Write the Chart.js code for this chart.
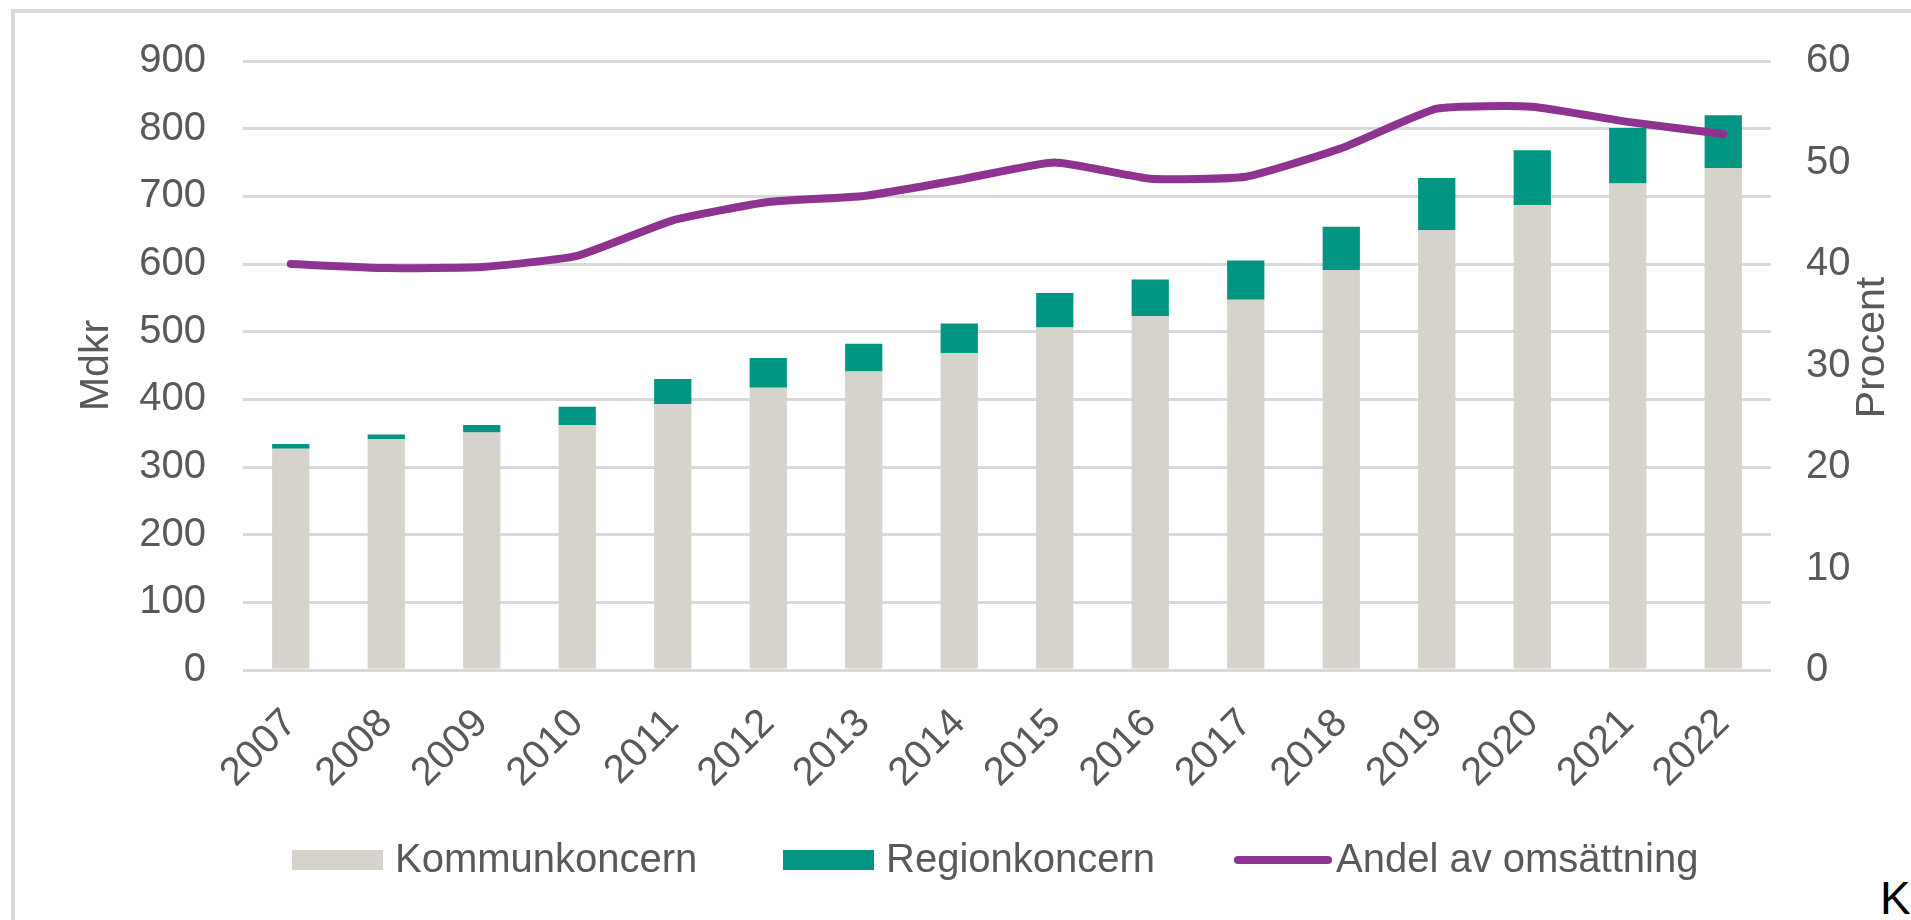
<!DOCTYPE html>
<html>
<head>
<meta charset="utf-8">
<script src="https://cdn.jsdelivr.net/npm/chart.js@4.4.1/dist/chart.umd.min.js"></script>
<style>
  html, body { margin: 0; padding: 0; background: #fff; overflow: hidden; }
  #wrap { position: relative; width: 1911px; height: 920px; }
  #ram { position: absolute; left: 11px; top: 9px; width: 2000px; height: 1000px;
         border-left: 4px solid #d9d9d9; border-top: 4px solid #d9d9d9; }
  #k { position: absolute; left: 1880px; top: 871px; font: 46px "Liberation Sans", Arial, sans-serif; color: #000; }
  canvas { position: absolute; left: 0; top: 0; }
</style>
</head>
<body>
<div id="wrap">
  <div id="ram"></div>
  <div id="k">K</div>
  <canvas id="chart" width="1911" height="920"></canvas>
</div>
<script>
// Data
const ar = ['2007', '2008', '2009', '2010', '2011', '2012', '2013', '2014',
            '2015', '2016', '2017', '2018', '2019', '2020', '2021', '2022'];
// Mdkr
const kommunkoncern = [327, 341, 351, 362, 393, 417, 441, 468, 506, 523, 547, 591, 650, 687, 719, 742];
const regionkoncern = [7, 7, 11, 27, 37, 44, 41, 44, 51, 54, 58, 64, 77, 81, 82, 78];
// Procent
const andelOmsattning = [40.0, 39.6, 39.7, 40.8, 44.3, 46.1, 46.7, 48.3, 50.0, 48.4, 48.6, 51.4, 55.3, 55.5, 54.0, 52.8];

const GRA = '#d6d2cc';
const TURKOS = '#009681';
const LILA = '#8f3391';
const TEXT = '#595959';
const FONT = '"Liberation Sans", Arial, sans-serif';

Chart.defaults.font.family = FONT;
Chart.defaults.color = TEXT;

// Axeltitlar (Mdkr läses nerifrån och upp, även Procent)
const axeltitlar = {
  id: 'axeltitlar',
  afterDraw(chart) {
    const ctx = chart.ctx;
    const mitt = (chart.chartArea.top + chart.chartArea.bottom) / 2;
    ctx.save();
    ctx.font = '41px ' + FONT;
    ctx.fillStyle = TEXT;
    ctx.textAlign = 'center';
    ctx.textBaseline = 'middle';
    [['Mdkr', 97, mitt], ['Procent', 1873, mitt - 18]].forEach(([t, x, y]) => {
      ctx.save();
      ctx.translate(x, y);
      ctx.rotate(-Math.PI / 2);
      ctx.fillText(t, 0, 0);
      ctx.restore();
    });
    ctx.restore();
  }
};

// Förklaring under diagrammet
const forklaring = {
  id: 'forklaring',
  afterDraw(chart) {
    const ctx = chart.ctx;
    const y = 860;
    const starts = [292, 783, 1234];
    ctx.save();
    ctx.font = '40px ' + FONT;
    ctx.textBaseline = 'middle';
    chart.data.datasets.forEach((ds, i) => {
      let x = starts[i];
      if (ds.type === 'line') {
        ctx.strokeStyle = ds.borderColor;
        ctx.lineWidth = 8;
        ctx.lineCap = 'round';
        ctx.beginPath();
        ctx.moveTo(x + 4, y);
        ctx.lineTo(x + 94, y);
        ctx.stroke();
        x += 102;
      } else {
        ctx.fillStyle = ds.backgroundColor;
        ctx.fillRect(x, y - 10, 91, 20);
        x += 103;
      }
      ctx.fillStyle = TEXT;
      ctx.fillText(ds.label, x, y + 1);
    });
    ctx.restore();
  }
};

new Chart(document.getElementById('chart'), {
  type: 'bar',
  data: {
    labels: ar,
    datasets: [
      {
        label: 'Kommunkoncern',
        data: kommunkoncern,
        backgroundColor: GRA,
        yAxisID: 'y',
        stack: 'a',
        order: 1,
        barPercentage: 0.39,
        categoryPercentage: 1
      },
      {
        label: 'Regionkoncern',
        data: regionkoncern,
        backgroundColor: TURKOS,
        yAxisID: 'y',
        stack: 'a',
        order: 1,
        barPercentage: 0.39,
        categoryPercentage: 1
      },
      {
        type: 'line',
        label: 'Andel av omsättning',
        data: andelOmsattning,
        borderColor: LILA,
        backgroundColor: LILA,
        borderWidth: 8,
        borderCapStyle: 'round',
        borderJoinStyle: 'round',
        tension: 0.15,
        pointRadius: 0,
        yAxisID: 'y1',
        order: 0
      }
    ]
  },
  options: {
    responsive: false,
    animation: false,
    events: [],
    layout: { padding: { top: 61, left: 0, right: 0, bottom: 100 } },
    plugins: {
      legend: { display: false },
      tooltip: { enabled: false }
    },
    scales: {
      x: {
        stacked: true,
        grid: { display: false },
        border: { display: false },
        ticks: {
          font: { size: 40 },
          color: TEXT,
          maxRotation: 45,
          minRotation: 45,
          padding: 22
        },
        afterFit: s => { s.height = 150; }
      },
      y: {
        stacked: true,
        position: 'left',
        min: 0,
        max: 900,
        ticks: { stepSize: 100, font: { size: 40 }, color: TEXT, padding: 37 },
        grid: { color: '#d9d9d9', lineWidth: 3, drawTicks: false },
        border: { display: false },
        afterFit: s => { s.width = 243; }
      },
      y1: {
        position: 'right',
        min: 0,
        max: 60,
        ticks: { stepSize: 10, font: { size: 40 }, color: TEXT, padding: 35 },
        grid: { display: false, drawTicks: false },
        border: { display: false },
        afterFit: s => { s.width = 140; }
      }
    }
  },
  plugins: [axeltitlar, forklaring]
});
</script>
</body>
</html>
